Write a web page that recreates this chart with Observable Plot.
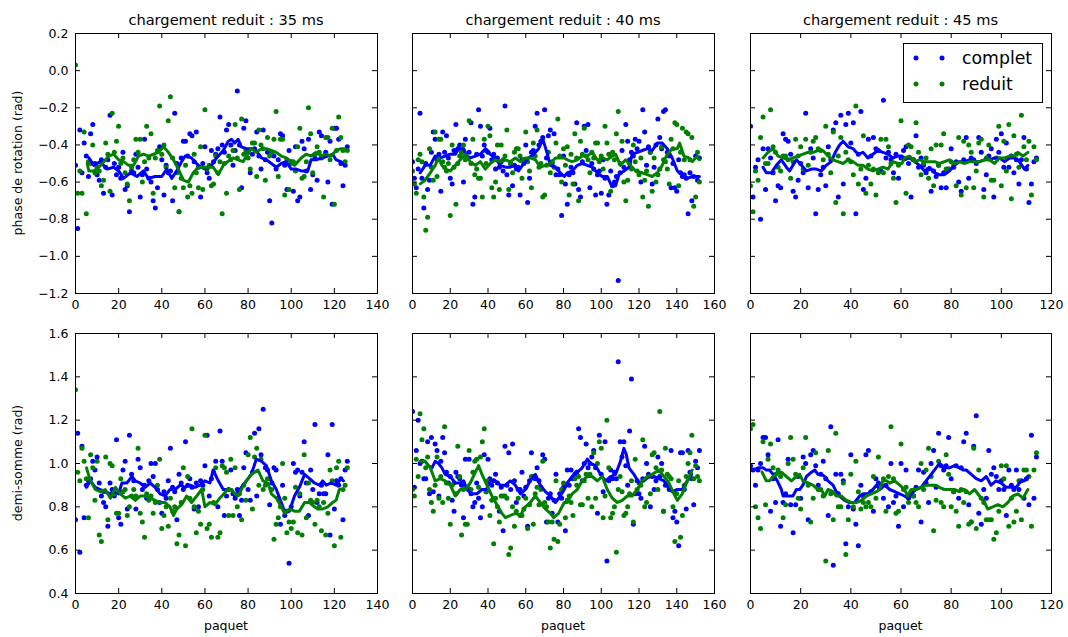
<!DOCTYPE html>
<html><head><meta charset="utf-8">
<script src="https://cdn.jsdelivr.net/npm/d3@7"></script>
<script src="https://cdn.jsdelivr.net/npm/@observablehq/plot@0.6"></script>
<style>
body{margin:0;background:#fff;}
#chart{position:relative;width:1068px;height:637px;overflow:hidden;font-family:"DejaVu Sans",sans-serif;}
#chart svg{position:absolute;}
</style></head><body><div id="chart"></div>
<script>
// ---------- tick labels ----------
const xTicks35 = [0,20,40,60,80,100,120,140];
const xTicks40 = [0,20,40,60,80,100,120,140,160];
const xTicks45 = [0,20,40,60,80,100,120];
const yTicksPhase = [0.2,0.0,-0.2,-0.4,-0.6,-0.8,-1.0,-1.2];
const yTicksSomme = [1.6,1.4,1.2,1.0,0.8,0.6,0.4];
const titres = ["chargement reduit : 35 ms","chargement reduit : 40 ms","chargement reduit : 45 ms"];
const series = ["complet","reduit"];

// ---------- phase de rotation (rad), one value per paquet ----------
const phase35Complet = [-0.51,-0.85,-0.32,-0.55,-0.39,-0.46,-0.57,-0.34,-0.29,-0.50,
-0.56,-0.59,-0.48,-0.66,-0.52,-0.48,-0.24,-0.67,-0.50,-0.56,
-0.52,-0.58,-0.44,-0.64,-0.62,-0.76,-0.54,-0.55,-0.45,-0.52,
-0.68,-0.56,-0.37,-0.53,-0.58,-0.60,-0.70,-0.74,-0.63,-0.41,
-0.48,-0.67,-0.51,-0.55,-0.54,-0.70,-0.23,-0.50,-0.76,-0.47,
-0.38,-0.38,-0.46,-0.34,-0.35,-0.49,-0.33,-0.52,-0.68,-0.50,
-0.41,-0.55,-0.58,-0.43,-0.49,-0.45,-0.42,-0.25,-0.40,-0.44,
-0.32,-0.29,-0.40,-0.51,-0.43,-0.11,-0.40,-0.63,-0.31,-0.27,
-0.44,-0.55,-0.45,-0.42,-0.33,-0.46,-0.53,-0.32,-0.48,-0.44,
-0.70,-0.82,-0.46,-0.53,-0.48,-0.34,-0.35,-0.51,-0.64,-0.43,
-0.49,-0.65,-0.41,-0.70,-0.68,-0.38,-0.42,-0.54,-0.37,-0.64,
-0.56,-0.47,-0.59,-0.33,-0.35,-0.46,-0.44,-0.60,-0.38,-0.72,
-0.31,-0.31,-0.37,-0.50,-0.62,-0.51,-0.41];
const phase35Reduit = [0.03,-0.66,-0.54,-0.66,-0.33,-0.77,-0.49,-0.50,-0.40,-0.55,
-0.52,-0.54,-0.62,-0.59,-0.39,-0.45,-0.65,-0.23,-0.44,-0.38,
-0.30,-0.50,-0.47,-0.55,-0.61,-0.70,-0.52,-0.48,-0.37,-0.44,
-0.37,-0.60,-0.49,-0.30,-0.47,-0.34,-0.66,-0.47,-0.43,-0.19,
-0.45,-0.40,-0.52,-0.27,-0.14,-0.47,-0.63,-0.55,-0.76,-0.58,
-0.63,-0.51,-0.68,-0.62,-0.66,-0.45,-0.55,-0.63,-0.41,-0.64,
-0.21,-0.53,-0.51,-0.62,-0.61,-0.46,-0.55,-0.49,-0.77,-0.50,
-0.66,-0.46,-0.48,-0.43,-0.29,-0.47,-0.64,-0.26,-0.45,-0.43,
-0.47,-0.53,-0.39,-0.39,-0.57,-0.32,-0.40,-0.42,-0.59,-0.36,
-0.46,-0.44,-0.37,-0.22,-0.57,-0.37,-0.37,-0.67,-0.48,-0.64,
-0.50,-0.49,-0.54,-0.41,-0.31,-0.58,-0.57,-0.49,-0.20,-0.34,
-0.55,-0.45,-0.41,-0.44,-0.47,-0.68,-0.36,-0.36,-0.48,-0.31,
-0.72,-0.43,-0.25,-0.36,-0.43,-0.49,-0.43];
const phase40Complet = [-0.49,-0.58,-0.63,-0.53,-0.23,-0.58,-0.74,-0.50,-0.64,-0.59,
-0.44,-0.33,-0.37,-0.48,-0.45,-0.65,-0.33,-0.44,-0.35,-0.47,
-0.58,-0.61,-0.43,-0.29,-0.42,-0.40,-0.44,-0.60,-0.37,-0.47,
-0.44,-0.28,-0.72,-0.68,-0.45,-0.21,-0.30,-0.46,-0.40,-0.43,
-0.44,-0.31,-0.48,-0.45,-0.53,-0.47,-0.52,-0.49,-0.54,-0.19,
-0.56,-0.67,-0.50,-0.62,-0.51,-0.53,-0.52,-0.67,-0.48,-0.50,
-0.40,-0.71,-0.58,-0.44,-0.43,-0.30,-0.23,-0.40,-0.38,-0.36,
-0.21,-0.47,-0.35,-0.32,-0.50,-0.34,-0.56,-0.53,-0.56,-0.78,
-0.46,-0.61,-0.72,-0.56,-0.52,-0.55,-0.61,-0.28,-0.64,-0.68,
-0.49,-0.30,-0.43,-0.29,-0.63,-0.50,-0.53,-0.67,-0.56,-0.54,
-0.66,-0.48,-0.58,-0.72,-0.67,-0.54,-0.62,-0.60,-0.57,-1.13,
-0.55,-0.43,-0.52,-0.29,-0.38,-0.48,-0.44,-0.46,-0.37,-0.42,
-0.38,-0.60,-0.21,-0.33,-0.51,-0.41,-0.44,-0.61,-0.52,-0.40,
-0.26,-0.36,-0.42,-0.22,-0.21,-0.44,-0.46,-0.63,-0.50,-0.63,
-0.65,-0.48,-0.55,-0.57,-0.56,-0.58,-0.77,-0.55,-0.70,-0.57,
-0.46,-0.59,-0.47];
const phase40Reduit = [-0.54,-0.61,-0.66,-0.48,-0.45,-0.49,-0.68,-0.86,-0.79,-0.42,
-0.52,-0.59,-0.33,-0.57,-0.37,-0.37,-0.49,-0.52,-0.54,-0.50,
-0.78,-0.40,-0.52,-0.72,-0.50,-0.46,-0.44,-0.40,-0.48,-0.47,
-0.27,-0.50,-0.37,-0.56,-0.53,-0.58,-0.58,-0.68,-0.37,-0.50,
-0.30,-0.35,-0.63,-0.68,-0.60,-0.40,-0.64,-0.40,-0.48,-0.46,
-0.32,-0.64,-0.50,-0.55,-0.44,-0.42,-0.42,-0.46,-0.58,-0.48,
-0.33,-0.49,-0.54,-0.63,-0.39,-0.46,-0.32,-0.52,-0.50,-0.68,
-0.67,-0.51,-0.44,-0.55,-0.49,-0.52,-0.39,-0.26,-0.46,-0.60,
-0.42,-0.51,-0.41,-0.67,-0.45,-0.61,-0.34,-0.47,-0.70,-0.38,
-0.45,-0.31,-0.46,-0.48,-0.55,-0.44,-0.47,-0.39,-0.39,-0.49,
-0.46,-0.53,-0.30,-0.39,-0.45,-0.65,-0.44,-0.48,-0.34,-0.22,
-0.50,-0.38,-0.60,-0.70,-0.59,-0.50,-0.53,-0.40,-0.49,-0.54,
-0.56,-0.47,-0.68,-0.59,-0.54,-0.73,-0.44,-0.65,-0.47,-0.60,
-0.56,-0.53,-0.41,-0.48,-0.49,-0.53,-0.61,-0.37,-0.42,-0.28,
-0.29,-0.62,-0.44,-0.31,-0.48,-0.33,-0.34,-0.48,-0.36,-0.73,
-0.68,-0.44,-0.60];
const phase45Complet = [-0.30,-0.68,-0.52,-0.48,-0.80,-0.42,-0.64,-0.42,-0.47,-0.55,
-0.70,-0.62,-0.63,-0.34,-0.37,-0.38,-0.45,-0.65,-0.68,-0.59,
-0.50,-0.55,-0.23,-0.63,-0.42,-0.47,-0.77,-0.64,-0.56,-0.52,
-0.62,-0.41,-0.48,-0.32,-0.28,-0.68,-0.24,-0.61,-0.29,-0.23,
-0.39,-0.28,-0.77,-0.45,-0.22,-0.64,-0.58,-0.37,-0.46,-0.36,
-0.42,-0.43,-0.54,-0.16,-0.47,-0.44,-0.48,-0.55,-0.45,-0.58,
-0.47,-0.43,-0.41,-0.50,-0.68,-0.48,-0.35,-0.52,-0.47,-0.51,
-0.55,-0.53,-0.65,-0.54,-0.57,-0.51,-0.63,-0.55,-0.63,-0.53,
-0.42,-0.52,-0.49,-0.60,-0.65,-0.48,-0.36,-0.58,-0.47,-0.48,
-0.50,-0.36,-0.44,-0.64,-0.56,-0.46,-0.42,-0.68,-0.37,-0.44,
-0.34,-0.52,-0.39,-0.52,-0.46,-0.55,-0.48,-0.61,-0.48,-0.36,
-0.53,-0.71,-0.61,-0.49,-0.47];
const phase45Reduit = [-0.62,-0.76,-0.54,-0.59,-0.36,-0.25,-0.50,-0.50,-0.21,-0.41,
-0.44,-0.52,-0.54,-0.46,-0.46,-0.48,-0.58,-0.49,-0.37,-0.46,
-0.41,-0.53,-0.37,-0.51,-0.44,-0.38,-0.36,-0.42,-0.43,-0.48,
-0.30,-0.45,-0.55,-0.33,-0.71,-0.46,-0.36,-0.77,-0.44,-0.48,
-0.49,-0.56,-0.19,-0.61,-0.53,-0.35,-0.66,-0.51,-0.61,-0.53,
-0.67,-0.55,-0.37,-0.55,-0.37,-0.41,-0.50,-0.58,-0.71,-0.51,
-0.27,-0.47,-0.66,-0.40,-0.41,-0.48,-0.28,-0.44,-0.56,-0.50,
-0.47,-0.58,-0.42,-0.62,-0.40,-0.51,-0.40,-0.34,-0.53,-0.53,
-0.49,-0.51,-0.62,-0.36,-0.67,-0.38,-0.63,-0.40,-0.44,-0.63,
-0.54,-0.39,-0.37,-0.68,-0.47,-0.40,-0.59,-0.59,-0.47,-0.30,
-0.62,-0.38,-0.54,-0.29,-0.69,-0.35,-0.45,-0.52,-0.24,-0.41,
-0.48,-0.38,-0.67,-0.41,-0.48];

// ---------- demi-somme (rad), one value per paquet ----------
const somme35Complet = [0.74,1.14,0.59,1.08,0.75,0.90,0.92,0.93,1.01,0.97,
1.03,0.91,0.85,0.82,0.80,0.71,0.91,0.88,0.85,1.11,
0.75,0.72,0.97,1.01,0.79,1.13,0.95,0.92,0.79,1.02,
0.98,0.88,0.90,0.84,0.92,1.00,0.94,1.00,0.88,0.82,
0.77,0.87,0.84,0.92,1.07,0.89,0.87,0.74,0.95,0.91,
0.88,1.10,0.90,0.93,0.89,0.79,0.91,0.80,0.92,0.90,
0.99,1.13,0.85,0.93,0.96,1.01,0.80,1.15,1.01,0.76,
0.85,0.88,0.97,0.86,0.84,0.88,0.76,0.83,0.98,1.05,
0.88,0.83,0.96,1.14,0.85,1.16,1.04,1.25,0.98,0.97,
0.81,0.91,0.98,0.97,0.84,0.72,0.90,0.76,0.78,0.54,
0.80,1.00,0.96,0.97,0.85,0.96,1.10,0.91,0.76,0.97,
0.88,1.18,0.82,0.86,0.90,0.86,0.86,1.04,0.67,1.18,
0.79,0.92,0.90,0.93,0.74,0.97,1.01];
const somme35Reduit = [1.34,0.96,0.92,1.07,1.01,0.93,0.75,1.04,0.98,0.83,
1.01,0.67,0.64,0.87,1.03,0.74,1.00,0.99,0.86,0.77,
0.77,0.93,0.87,0.88,0.76,0.80,0.85,0.88,0.85,1.07,
0.77,0.73,0.66,0.86,0.83,0.85,0.77,0.82,0.90,1.02,
0.70,0.76,0.80,0.71,0.84,0.78,0.80,0.63,0.67,0.82,
0.98,0.62,0.94,0.84,1.16,0.80,0.68,0.78,0.72,0.88,
1.13,0.70,0.72,0.66,0.82,0.98,0.66,0.68,0.99,0.98,
0.96,0.76,1.02,0.76,0.98,0.80,0.86,0.74,0.90,0.83,
1.04,1.12,0.79,1.03,1.07,0.90,1.02,0.88,0.90,0.93,
0.93,0.88,0.65,0.72,0.75,0.80,1.00,0.84,0.68,0.73,
0.70,0.73,0.89,0.68,0.86,0.67,1.04,0.75,0.91,0.83,
0.82,0.72,0.83,0.80,0.69,0.82,0.67,0.77,0.97,0.92,
0.62,0.98,1.01,0.66,0.88,0.90,0.98];
const somme40Complet = [1.24,0.89,1.06,1.20,1.00,1.01,0.93,0.93,1.10,0.86,
1.12,0.87,1.09,1.06,0.85,1.01,1.12,1.05,0.96,0.91,
0.94,0.83,0.78,0.96,0.94,0.93,0.90,0.75,1.02,0.89,
1.02,0.86,0.80,0.82,0.91,0.84,0.75,0.80,1.04,0.87,
1.02,0.93,0.90,0.92,0.95,0.91,0.78,0.89,0.69,1.08,
0.90,1.05,0.88,1.09,0.92,0.82,0.88,0.88,0.96,0.85,
0.89,0.71,0.92,1.05,0.94,0.93,0.98,0.92,0.89,1.04,
1.02,0.73,0.84,0.86,0.77,0.83,0.95,0.73,0.86,0.84,
0.89,0.69,0.97,0.90,0.97,0.93,0.95,0.96,1.16,1.12,
0.92,1.00,1.09,0.98,1.00,1.03,1.06,0.98,0.77,1.13,
0.95,0.87,1.10,0.55,0.92,0.97,0.93,0.96,0.93,1.47,
1.10,1.03,1.10,0.99,0.90,1.15,1.39,0.72,0.86,0.92,
0.86,0.84,0.93,1.08,1.00,0.95,0.80,0.94,0.88,0.92,
1.03,0.94,1.00,0.78,0.90,0.91,0.88,1.06,0.75,0.78,
0.73,0.62,1.05,1.05,0.88,0.79,1.06,0.96,0.93,0.81,
1.01,0.98,1.06];
const somme40Reduit = [0.88,0.85,1.02,0.94,1.23,1.11,1.16,0.98,1.03,0.88,
0.82,0.78,0.90,1.03,0.84,0.94,0.82,1.17,0.91,0.84,
0.72,0.90,0.91,0.86,1.08,0.94,0.67,0.88,0.72,0.72,
1.06,0.88,0.96,1.01,1.02,0.89,1.03,1.10,1.16,0.87,
0.92,0.76,0.83,0.63,0.84,0.80,0.73,0.85,0.85,0.85,
0.84,0.58,0.61,0.80,0.71,0.78,0.84,0.76,0.76,0.79,
0.84,0.70,0.81,0.94,0.72,0.86,0.89,0.81,0.88,1.01,
0.82,0.80,0.73,0.61,0.73,0.65,0.92,0.64,0.72,0.88,
0.91,0.75,0.83,0.85,0.82,0.76,0.93,0.90,0.94,0.81,
0.81,0.92,0.95,0.84,0.95,0.80,1.05,0.84,1.00,1.10,
1.07,0.75,0.85,1.20,0.98,0.75,0.77,0.80,0.59,0.88,
0.94,0.87,0.76,0.77,0.80,0.86,0.92,0.73,1.02,0.88,
0.91,0.90,1.11,0.80,0.82,0.94,0.86,1.04,1.05,0.98,
0.88,1.24,0.97,0.78,1.07,0.95,0.94,0.93,0.80,0.64,
0.86,0.92,0.66,0.76,0.90,0.94,1.00,1.05,1.13,0.93,
0.99,0.94,0.92];
const somme45Complet = [0.99,0.97,0.90,0.97,1.00,1.12,1.12,1.04,0.78,0.93,
0.82,1.11,0.71,0.82,0.86,1.02,0.81,0.68,0.81,0.94,
0.84,1.03,1.00,0.74,1.04,1.06,0.99,0.90,0.95,1.01,
0.93,0.76,1.17,0.53,0.95,0.86,0.95,0.92,0.63,0.80,
1.04,0.79,0.72,0.62,0.90,0.85,1.04,1.06,0.87,0.78,
0.93,0.91,0.90,0.84,0.90,0.80,1.00,0.82,0.85,0.71,
1.00,0.80,0.97,0.84,0.86,0.85,0.89,0.97,0.73,0.96,
0.91,0.82,1.00,1.06,0.89,1.14,0.99,0.97,0.99,1.12,
0.93,0.87,0.99,0.84,0.98,1.10,1.14,0.81,0.73,1.08,
1.22,0.77,0.72,0.88,0.84,1.06,0.95,0.98,0.94,0.88,
0.92,0.88,0.76,0.97,0.90,0.88,0.97,0.88,0.92,0.84,
0.93,0.81,1.13,0.84,1.03];
const somme45Reduit = [1.16,1.18,0.80,0.75,0.70,1.10,0.81,1.02,1.09,0.98,
0.95,0.97,0.94,0.75,0.81,1.00,1.12,1.02,0.95,0.84,
0.79,0.98,1.12,0.90,0.73,0.84,1.05,0.88,0.88,0.85,
0.55,1.06,0.86,0.74,1.14,0.80,0.80,0.91,0.58,0.74,
0.95,0.80,1.01,0.87,0.79,0.82,0.80,0.82,0.80,0.94,
0.84,1.03,0.89,0.93,0.78,0.94,1.17,0.93,0.77,0.78,
1.09,0.88,0.89,0.82,0.87,0.85,0.82,0.80,1.00,0.88,
0.97,1.07,0.94,0.69,0.83,1.01,0.82,0.80,1.04,0.95,
0.80,0.87,0.78,0.71,0.88,0.82,0.87,0.72,0.73,1.07,
0.70,0.97,0.84,0.82,0.74,0.74,0.74,0.65,0.68,0.78,
0.99,0.93,0.99,0.71,0.84,0.73,0.78,0.92,0.74,0.97,
0.97,0.94,0.71,0.97,1.05];

// ---------- moyennes glissantes : [paquet, valeur] ----------
const moyPhase35Complet = [[6.2,-0.47],[8.5,-0.51],[11.5,-0.49],[14.6,-0.53],[17.7,-0.52],[20,-0.54],[22.3,-0.58],[25.4,-0.55],[28.5,-0.57],[31.5,-0.54],[33.8,-0.58],[36.9,-0.57],[40,-0.57],[42.3,-0.53],[44.6,-0.58],[46.9,-0.54],[49.2,-0.49],[50.8,-0.46],[53.8,-0.47],[56.9,-0.51],[60,-0.53],[63.1,-0.51],[65.4,-0.47],[68.5,-0.43],[70.8,-0.38],[72.3,-0.37],[73.8,-0.39],[75.4,-0.37],[76.9,-0.41],[79.2,-0.42],[81.5,-0.42],[83.8,-0.43],[86.2,-0.47],[88.5,-0.48],[90.8,-0.50],[93.1,-0.52],[95.4,-0.50],[97.7,-0.49],[100,-0.53],[102.3,-0.53],[104.6,-0.54],[107.7,-0.54],[109.2,-0.48],[111.5,-0.48],[114.6,-0.47],[116.9,-0.46],[119.2,-0.45],[120.8,-0.48],[123.1,-0.49],[124.6,-0.51]];
const moyPhase35Reduit = [[5.4,-0.50],[6.2,-0.54],[8.5,-0.54],[10.8,-0.52],[13.1,-0.49],[15.4,-0.46],[17.7,-0.45],[20,-0.48],[22.3,-0.49],[24.6,-0.51],[26.9,-0.51],[29.2,-0.46],[31.5,-0.45],[33.8,-0.46],[36.2,-0.45],[38.5,-0.44],[40.8,-0.41],[43.1,-0.44],[45.4,-0.48],[47.7,-0.53],[50,-0.59],[52.3,-0.60],[54.6,-0.55],[56.9,-0.52],[59.2,-0.52],[61.5,-0.52],[63.8,-0.52],[66.2,-0.56],[68.5,-0.51],[70.5,-0.49],[73.1,-0.47],[75.4,-0.48],[77.7,-0.49],[79.2,-0.46],[81.5,-0.42],[83.8,-0.44],[86.2,-0.42],[88.5,-0.42],[90.8,-0.43],[93.1,-0.44],[95.4,-0.46],[97.7,-0.47],[100,-0.49],[101.5,-0.51],[103.1,-0.49],[104.6,-0.47],[106.9,-0.45],[109.2,-0.46],[111.5,-0.44],[113.8,-0.46],[116.2,-0.45],[118.5,-0.46],[120.8,-0.43],[123.1,-0.42],[124.6,-0.42]];
const moyPhase40Complet = [[4.1,-0.55],[6.7,-0.51],[9.4,-0.51],[12,-0.46],[14.7,-0.47],[17.3,-0.46],[20,-0.45],[22.7,-0.45],[24.4,-0.42],[27.1,-0.42],[28.8,-0.46],[30.6,-0.47],[33.3,-0.46],[35.9,-0.45],[38.6,-0.42],[41.2,-0.45],[43.9,-0.47],[46.5,-0.51],[49.2,-0.52],[51.8,-0.52],[54.5,-0.51],[56.2,-0.54],[58.9,-0.50],[61.5,-0.47],[64.2,-0.45],[66.8,-0.42],[69.1,-0.37],[71.2,-0.44],[73,-0.51],[75.7,-0.52],[78.3,-0.55],[80.4,-0.57],[82,-0.55],[84.6,-0.54],[87.3,-0.51],[89.9,-0.50],[92.6,-0.51],[95.2,-0.52],[97.9,-0.55],[100.5,-0.57],[103.2,-0.57],[105.5,-0.62],[107.6,-0.62],[109.4,-0.56],[112,-0.54],[114.7,-0.52],[116.4,-0.45],[119.1,-0.44],[121.7,-0.43],[124.4,-0.42],[127,-0.43],[129.7,-0.39],[132.3,-0.39],[135,-0.42],[137.6,-0.47],[140.3,-0.54],[142.9,-0.56],[145.6,-0.58],[148.2,-0.57],[150.9,-0.57],[152,-0.57]];
const moyPhase40Reduit = [[4.1,-0.61],[6.7,-0.59],[9.4,-0.55],[12,-0.51],[13.8,-0.47],[15.6,-0.51],[17.3,-0.53],[20,-0.54],[22.7,-0.51],[25.3,-0.48],[28,-0.45],[30.6,-0.49],[33.3,-0.51],[35.9,-0.49],[38.6,-0.53],[41.2,-0.50],[43.9,-0.48],[46.5,-0.49],[49.2,-0.48],[51.8,-0.49],[54.5,-0.47],[57.1,-0.49],[59.8,-0.47],[62.4,-0.47],[65.1,-0.48],[67.7,-0.52],[70.4,-0.51],[73,-0.50],[75.7,-0.47],[78.3,-0.47],[80.4,-0.47],[82,-0.48],[84.6,-0.49],[87.3,-0.48],[89.9,-0.46],[92.6,-0.46],[95.2,-0.44],[97.9,-0.48],[100.5,-0.47],[103.2,-0.48],[105.8,-0.46],[107.6,-0.45],[110.2,-0.51],[112.9,-0.48],[115.5,-0.51],[118.2,-0.54],[121.7,-0.55],[124.4,-0.56],[127,-0.57],[129.7,-0.55],[132.3,-0.51],[135,-0.45],[137.6,-0.42],[140.3,-0.42],[141.5,-0.39],[143.8,-0.46],[146.5,-0.47],[148.2,-0.49],[150.9,-0.46],[152,-0.48]];
const moyPhase45Complet = [[5,-0.52],[6.3,-0.55],[8.3,-0.55],[10.3,-0.51],[12.3,-0.48],[14.3,-0.52],[15.6,-0.54],[16.9,-0.51],[18.3,-0.48],[20.3,-0.51],[22.3,-0.54],[24.3,-0.53],[26.2,-0.53],[28.2,-0.54],[30.2,-0.51],[32.2,-0.49],[33.8,-0.44],[35.5,-0.40],[36.9,-0.38],[38.9,-0.41],[40.9,-0.42],[42.9,-0.45],[44.9,-0.44],[46.8,-0.47],[48.8,-0.45],[50.8,-0.43],[52.8,-0.44],[54.8,-0.45],[56.8,-0.47],[58.8,-0.46],[60.4,-0.46],[61.4,-0.48],[63.4,-0.47],[65.4,-0.49],[67.4,-0.51],[69.4,-0.54],[71.4,-0.52],[73.4,-0.55],[75.3,-0.56],[77.3,-0.56],[79.3,-0.54],[81.3,-0.51],[83.3,-0.49],[85.3,-0.49],[87.3,-0.48],[89.3,-0.49],[91.3,-0.49],[93.3,-0.48],[95.3,-0.48],[97.3,-0.47],[99.3,-0.47],[101.3,-0.49],[103.3,-0.47],[105.2,-0.47],[107.2,-0.49],[109.2,-0.53],[110.6,-0.51]];
const moyPhase45Reduit = [[5,-0.47],[7,-0.44],[9,-0.42],[11,-0.46],[13,-0.47],[15,-0.48],[16.9,-0.47],[18.9,-0.46],[20.9,-0.45],[22.9,-0.44],[24.9,-0.44],[26.9,-0.43],[28.9,-0.43],[30.9,-0.46],[32.9,-0.48],[34.9,-0.49],[36.9,-0.50],[38.9,-0.48],[40.9,-0.49],[42.9,-0.51],[44.9,-0.51],[46.8,-0.53],[48.8,-0.54],[50.8,-0.53],[52.8,-0.52],[54.8,-0.53],[56.8,-0.49],[58.8,-0.50],[60.4,-0.50],[61.4,-0.47],[63.4,-0.46],[65.4,-0.49],[67.4,-0.48],[69.4,-0.49],[71.4,-0.49],[73.4,-0.49],[75.3,-0.50],[77.3,-0.49],[79.3,-0.48],[81.3,-0.50],[83.3,-0.49],[85.3,-0.50],[87.3,-0.49],[89.3,-0.49],[91.3,-0.49],[93.3,-0.48],[95.3,-0.48],[97.3,-0.50],[99.3,-0.47],[101.3,-0.47],[103.3,-0.46],[105.2,-0.46],[106.6,-0.44],[108.6,-0.46],[110.6,-0.44]];
const moySomme35Complet = [[5.1,0.89],[6.9,0.92],[9.2,0.89],[11.5,0.88],[13.8,0.87],[16.2,0.86],[17.7,0.87],[20,0.86],[21.5,0.91],[23.8,0.91],[26.2,0.94],[27.7,0.92],[30,0.91],[32.3,0.89],[34.6,0.91],[36.9,0.89],[39.2,0.86],[41.5,0.85],[43.8,0.88],[46.2,0.88],[48.5,0.90],[50.8,0.89],[53.1,0.90],[55.4,0.89],[57.7,0.90],[60,0.92],[62.3,0.91],[63.8,0.97],[66.2,0.92],[68.5,0.88],[70.3,0.88],[72.3,0.88],[73.8,0.85],[75.4,0.87],[76.9,0.89],[79.2,0.92],[81.5,0.95],[83.8,1.02],[86.2,1.01],[88.5,0.99],[90.8,0.92],[93.1,0.88],[95.4,0.82],[96.9,0.78],[99.2,0.78],[101.5,0.85],[103.8,0.89],[106.2,0.95],[108.5,0.93],[110.8,0.91],[113.1,0.90],[114.6,0.92],[116.2,0.90],[118.5,0.91],[120.8,0.90],[123.1,0.93],[124.2,0.92]];
const moySomme35Reduit = [[5.1,0.98],[6.9,0.92],[9.2,0.88],[11.5,0.87],[13.8,0.88],[16.2,0.84],[18.5,0.89],[20.8,0.86],[23.1,0.84],[25.4,0.85],[27.7,0.83],[30,0.85],[32.3,0.85],[34.6,0.84],[36.9,0.83],[39.2,0.82],[41.5,0.82],[43.8,0.80],[45.4,0.76],[46.9,0.79],[49.2,0.81],[51.5,0.85],[53.8,0.82],[56.2,0.85],[58.5,0.88],[60,0.80],[62.3,0.82],[64.6,0.81],[66.9,0.84],[68.8,0.86],[70.3,0.88],[72.3,0.88],[73.8,0.86],[75.4,0.85],[76.9,0.88],[79.2,0.92],[81.5,0.95],[84.6,0.97],[86.9,0.92],[89.2,0.91],[90.8,0.86],[93.1,0.84],[95.4,0.80],[96.9,0.77],[99.2,0.79],[101.5,0.78],[103.8,0.78],[106.2,0.82],[108.5,0.82],[110.8,0.80],[112.3,0.79],[114.6,0.79],[116.9,0.80],[119.2,0.82],[120.8,0.83],[122.3,0.88],[123.1,0.88]];
const moySomme40Complet = [[4.1,1.01],[6.7,1.01],[8.5,0.99],[10.3,0.98],[12,1.01],[13.8,1.00],[15.6,0.98],[17.3,0.95],[20,0.94],[22.7,0.91],[25.3,0.91],[27.1,0.92],[28.8,0.88],[31.5,0.86],[34.1,0.86],[36.8,0.88],[39.1,0.88],[41.2,0.92],[43.9,0.92],[46.5,0.90],[49.2,0.90],[51.8,0.92],[54.5,0.90],[57.1,0.86],[59.8,0.88],[62.4,0.92],[65.1,0.95],[67.7,0.90],[70.4,0.87],[73,0.85],[75.7,0.82],[78.3,0.85],[80.4,0.88],[82,0.91],[84.6,0.94],[87.3,0.96],[89.9,0.98],[92.6,1.02],[94.3,1.00],[97,0.99],[99.6,0.95],[102.3,0.92],[105,0.94],[107.6,0.95],[110.2,1.01],[112,1.07],[113.3,1.04],[114.7,0.98],[117.3,0.95],[120,0.91],[122.6,0.92],[125.3,0.94],[127.9,0.94],[130.6,0.93],[133.2,0.92],[135.5,0.89],[137.6,0.87],[140.3,0.88],[142.9,0.88],[145.6,0.92],[147.9,0.95]];
const moySomme40Reduit = [[4.1,1.01],[6.7,1.01],[9.4,0.98],[12,0.92],[14.7,0.93],[17.3,0.92],[20,0.90],[22.7,0.85],[25.3,0.88],[28,0.88],[30.6,0.91],[33.3,0.96],[35,0.99],[36.8,0.95],[39.4,0.90],[42.1,0.85],[44.7,0.81],[47.4,0.77],[49.2,0.75],[51.8,0.76],[54.5,0.77],[57.1,0.76],[59.8,0.80],[62.4,0.82],[65.1,0.85],[67.7,0.82],[70.4,0.79],[73,0.77],[74.8,0.75],[77.4,0.77],[80.4,0.82],[82,0.82],[84.6,0.86],[87.3,0.88],[89.9,0.92],[92.6,0.94],[95.2,0.94],[97.9,0.92],[100.5,0.94],[103.2,0.88],[105.8,0.84],[108.5,0.82],[111.1,0.83],[113.8,0.85],[116.4,0.85],[119.1,0.88],[121.7,0.92],[124.4,0.94],[127,0.95],[130.6,0.97],[133.2,0.94],[135.9,0.91],[138.5,0.86],[140.3,0.83],[142.9,0.86],[145.6,0.92],[148.2,0.97]];
const moySomme45Complet = [[1,0.97],[3,0.98],[5,0.98],[6.3,0.97],[7.6,0.97],[9,0.95],[10.7,0.92],[12.3,0.88],[13,0.85],[15,0.85],[16.9,0.85],[18.3,0.88],[19.6,0.88],[20.9,0.90],[22.3,0.94],[24.3,0.96],[25.6,0.97],[26.9,0.95],[28.2,0.95],[29.6,0.94],[30.9,0.92],[32.9,0.90],[34.2,0.87],[35.5,0.85],[37.5,0.83],[39.5,0.82],[41.5,0.82],[43.5,0.85],[44.9,0.86],[46.8,0.86],[48.8,0.88],[50.2,0.90],[51.5,0.88],[53.5,0.90],[55.5,0.88],[57.5,0.87],[59.5,0.86],[61.4,0.85],[62.7,0.84],[64.1,0.86],[66,0.88],[68,0.89],[70,0.92],[72,0.95],[74,0.98],[75.3,1.00],[77.3,0.98],[79.3,0.98],[81.3,0.99],[83.3,0.98],[84.7,0.97],[86,0.97],[88,0.95],[90,0.93],[92,0.92],[94,0.94],[95.9,0.90],[97.9,0.92],[99.9,0.91],[101.9,0.89],[103.9,0.89],[105.9,0.89],[107.9,0.92],[109.2,0.92],[110.6,0.94]];
const moySomme45Reduit = [[4.6,0.96],[6.3,0.92],[7.6,0.92],[9,0.94],[10.3,0.95],[12.3,0.96],[14.3,0.94],[16.3,0.92],[18.3,0.94],[19.6,0.95],[20.9,0.92],[22.9,0.91],[24.9,0.90],[26.9,0.88],[28.2,0.88],[29.6,0.85],[30.9,0.88],[32.9,0.87],[34.2,0.85],[36.2,0.85],[38.2,0.83],[40.2,0.82],[42.2,0.82],[44.2,0.83],[46.2,0.85],[48.2,0.86],[50.2,0.87],[51.5,0.88],[52.8,0.92],[54.2,0.92],[55.5,0.91],[57.5,0.92],[59.5,0.90],[61.4,0.88],[62.7,0.85],[64.1,0.88],[66,0.88],[68,0.89],[70,0.90],[72,0.90],[74,0.90],[75.3,0.89],[77.3,0.88],[79.3,0.88],[81.3,0.88],[83.3,0.87],[85.3,0.88],[87.3,0.86],[89.3,0.88],[91.3,0.85],[93.3,0.82],[94.6,0.79],[96.6,0.80],[98.6,0.81],[100.6,0.80],[102.6,0.82],[104.6,0.85],[106.6,0.86],[108.6,0.84],[110.6,0.88]];

// ---------- layout ----------
const BLUE = "#0000ff", GREEN = "#008000";
const colX = [75, 412, 750], colW = [302, 302, 301];
const rowY = [33, 333], PH = 260;
const ML = 50, MR = 12, MT = 10, MB = 30;
const chart = document.getElementById("chart");

const cols = [
  {xMax: 140, xTicks: xTicks35},
  {xMax: 160, xTicks: xTicks40},
  {xMax: 120, xTicks: xTicks45}
];
const rows = [
  {domain: [-1.2, 0.2], yTicks: yTicksPhase,
   c: [phase35Complet, phase40Complet, phase45Complet],
   r: [phase35Reduit, phase40Reduit, phase45Reduit],
   mc: [moyPhase35Complet, moyPhase40Complet, moyPhase45Complet],
   mr: [moyPhase35Reduit, moyPhase40Reduit, moyPhase45Reduit]},
  {domain: [0.4, 1.6], yTicks: yTicksSomme,
   c: [somme35Complet, somme40Complet, somme45Complet],
   r: [somme35Reduit, somme40Reduit, somme45Reduit],
   mc: [moySomme35Complet, moySomme40Complet, moySomme45Complet],
   mr: [moySomme35Reduit, moySomme40Reduit, moySomme45Reduit]}
];
const fmtY = d3.format(".1f");

rows.forEach((row, ri) => {
  cols.forEach((col, ci) => {
    const w = colW[ci];
    const pts = (arr) => arr.map((v, i) => ({paquet: i, valeur: v}));
    const marks = [
      Plot.dot(pts(row.c[ci]), {x: "paquet", y: "valeur", r: 2.5, fill: BLUE, clip: true}),
      Plot.dot(pts(row.r[ci]), {x: "paquet", y: "valeur", r: 2.5, fill: GREEN, clip: true}),
      Plot.line(row.mc[ci], {x: d => d[0], y: d => d[1], stroke: BLUE, strokeWidth: 3, clip: true}),
      Plot.line(row.mr[ci], {x: d => d[0], y: d => d[1], stroke: GREEN, strokeWidth: 3, clip: true}),
      Plot.ruleX(col.xTicks, {insetTop: PH - 5, stroke: "#000"}),
      Plot.ruleX(col.xTicks, {insetBottom: PH - 5, stroke: "#000"}),
      Plot.ruleY(row.yTicks, {insetLeft: w - 5, stroke: "#000"}),
      Plot.ruleY(row.yTicks, {insetRight: w - 5, stroke: "#000"}),
      Plot.frame({stroke: "#000", strokeWidth: 1}),
      Plot.axisX(col.xTicks, {tickSize: 0, tickPadding: 7, tickFormat: d => String(d), label: null, fontSize: 12.5})
    ];
    if (ci === 0) marks.push(Plot.axisY(row.yTicks, {tickSize: 0, tickPadding: 7, tickFormat: fmtY, label: null, fontSize: 12.5}));
    const svg = Plot.plot({
      width: w + ML + MR, height: PH + MT + MB,
      marginLeft: ML, marginRight: MR, marginTop: MT, marginBottom: MB,
      x: {domain: [0, col.xMax], axis: null, label: null},
      y: {domain: row.domain, axis: null, label: null},
      style: {fontFamily: '"DejaVu Sans", sans-serif', fontSize: "12.5px", color: "#000", background: "transparent", overflow: "visible"},
      marks
    });
    svg.style.left = (colX[ci] - ML) + "px";
    svg.style.top = (rowY[ri] - MT) + "px";
    chart.appendChild(svg);
  });
});

// ---------- titles, labels, legend ----------
const ov = d3.select(chart).append("svg")
  .attr("width", 1068).attr("height", 637)
  .style("left", "0px").style("top", "0px")
  .attr("font-family", '"DejaVu Sans", sans-serif');

titres.forEach((t, i) => {
  ov.append("text").attr("x", colX[i] + colW[i] / 2).attr("y", 25)
    .attr("text-anchor", "middle").attr("font-size", 14.6).attr("fill", "#000").text(t);
  ov.append("text").attr("x", colX[i] + colW[i] / 2).attr("y", 630)
    .attr("text-anchor", "middle").attr("font-size", 12.5).attr("fill", "#000").text("paquet");
});
[["phase de rotation (rad)", rowY[0] + PH / 2], ["demi-somme (rad)", rowY[1] + PH / 2]].forEach(([t, cy]) => {
  ov.append("text").attr("transform", `translate(22,${cy}) rotate(-90)`)
    .attr("text-anchor", "middle").attr("font-size", 12.5).attr("fill", "#000").text(t);
});

const lg = ov.append("g");
lg.append("rect").attr("x", 903.5).attr("y", 43.5).attr("width", 139).attr("height", 59)
  .attr("fill", "#fff").attr("stroke", "#000").attr("stroke-width", 1);
[[BLUE, 58, series[0]], [GREEN, 84, series[1]]].forEach(([c, y, t]) => {
  lg.append("circle").attr("cx", 916).attr("cy", y).attr("r", 2.5).attr("fill", c);
  lg.append("circle").attr("cx", 942).attr("cy", y).attr("r", 2.5).attr("fill", c);
  lg.append("text").attr("x", 962).attr("y", y + 6).attr("font-size", 17.3).attr("fill", "#000").text(t);
});
</script>
</body></html>
